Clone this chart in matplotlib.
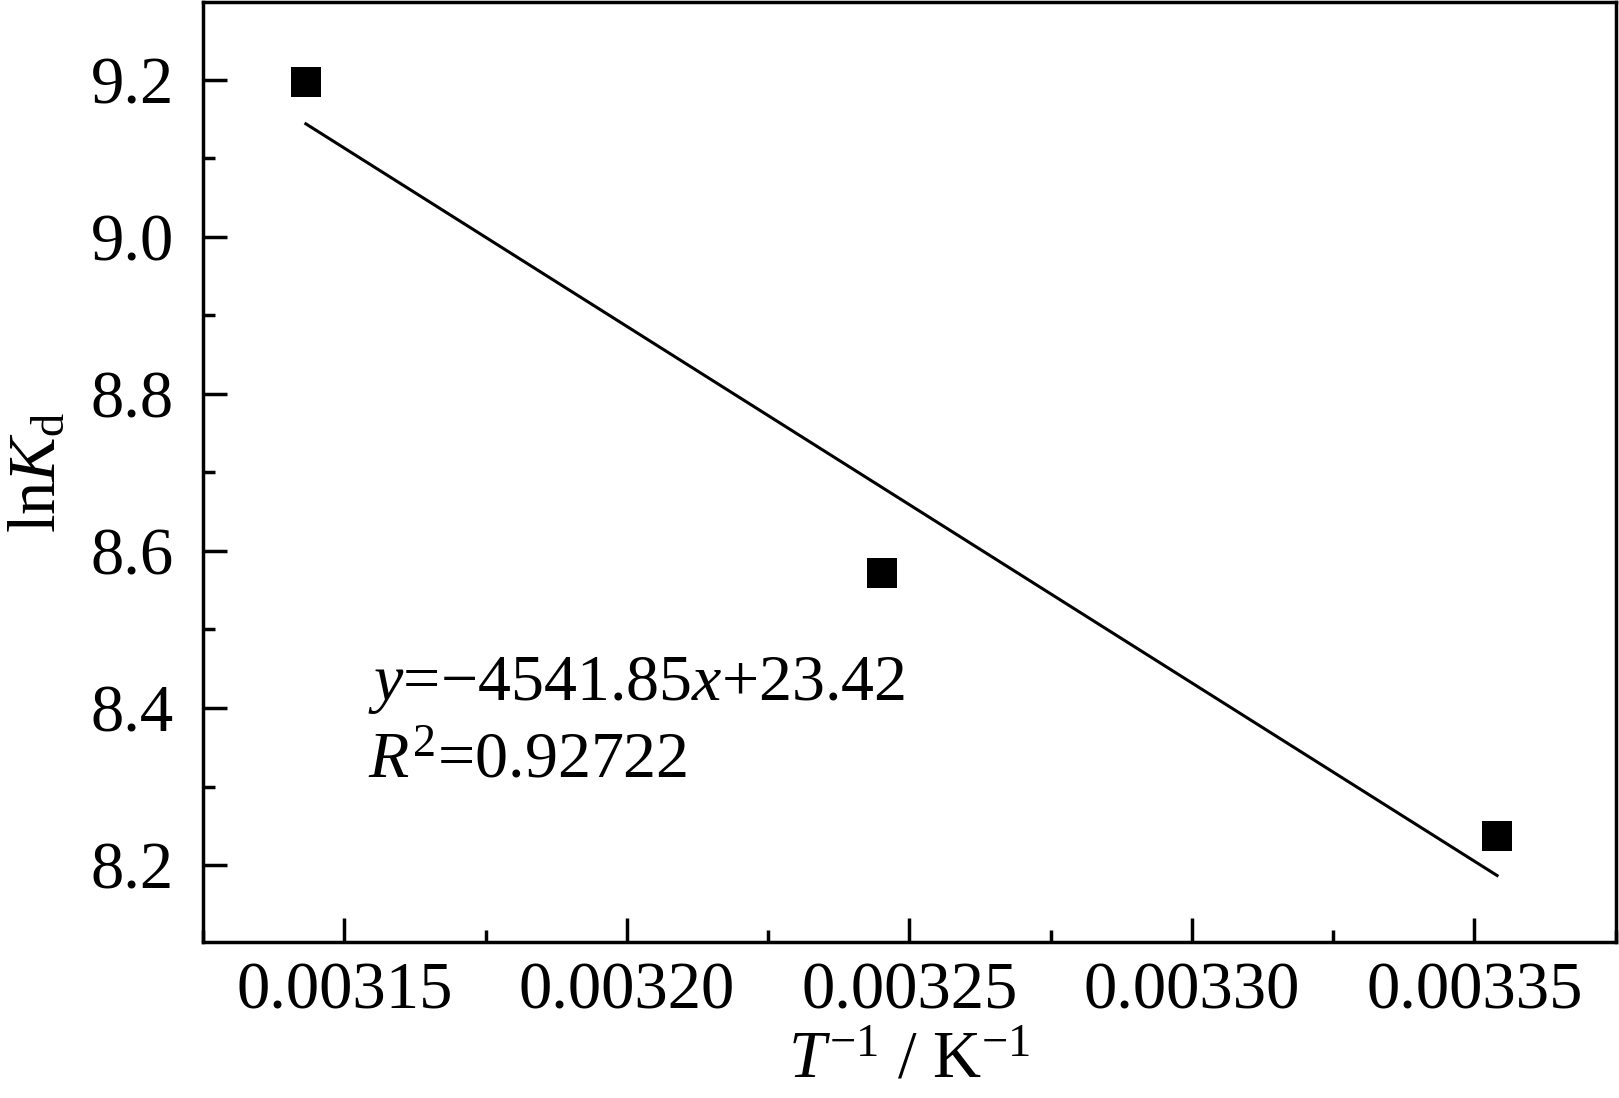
import matplotlib
matplotlib.use("Agg")
import matplotlib.pyplot as plt
import numpy as np
from matplotlib.ticker import MultipleLocator


# inverse temperature (1/K) and ln Kd
inv_temp = [0.0031432, 0.0032452, 0.0033540]
ln_kd = [9.197, 8.572, 8.237]

# linear fit as printed on the chart
fit_slope = -4541.85
fit_intercept = 23.42
fit_r2 = "0.92722"

x_ticks = [0.00315, 0.00320, 0.00325, 0.00330, 0.00335]
y_ticks = [8.2, 8.4, 8.6, 8.8, 9.0, 9.2]


def main():
    plt.rcParams["font.family"] = ["Liberation Serif", "DejaVu Serif"]
    plt.rcParams["mathtext.fontset"] = "custom"
    plt.rcParams["mathtext.rm"] = "Liberation Serif"
    plt.rcParams["mathtext.it"] = "Liberation Serif:italic"
    plt.rcParams["mathtext.bf"] = "Liberation Serif:bold"

    fig = plt.figure(figsize=(16.19, 10.98), dpi=100)
    ax = fig.add_axes([0.1254, 0.1421, 0.998 - 0.1254, 0.998 - 0.1421])

    ax.plot(inv_temp, ln_kd, "s", color="black", markersize=21, markeredgewidth=0)

    fit_x = np.array([inv_temp[0], inv_temp[-1]])
    ax.plot(fit_x, fit_slope * fit_x + fit_intercept, color="black", linewidth=2.2)

    ax.set_xlim(0.003125, 0.003375)
    ax.set_ylim(8.102, 9.299)
    ax.set_xticks(x_ticks)
    ax.set_xticklabels([f"{t:.5f}" for t in x_ticks])
    ax.set_yticks(y_ticks)
    ax.set_yticklabels([f"{t:.1f}" for t in y_ticks])
    ax.xaxis.set_minor_locator(MultipleLocator(0.000025))
    ax.yaxis.set_minor_locator(MultipleLocator(0.1))

    for side in ["left", "right", "top", "bottom"]:
        ax.spines[side].set_linewidth(2.5)

    ax.tick_params(which="both", direction="in", width=2.5, labelsize=48)
    ax.tick_params(which="major", length=17)
    ax.tick_params(which="minor", length=8.5)
    ax.tick_params(axis="y", which="major", pad=21)
    ax.tick_params(axis="x", which="major", pad=14)

    ax.set_xlabel(r"$T^{-1}$ / K$^{-1}$", fontsize=48, labelpad=6)
    ax.set_ylabel(r"ln$K_{\rm d}$", fontsize=48, labelpad=16)

    ax.text(0.1168, 0.2574, "$y$=\u22124541.85$x$+23.42", transform=ax.transAxes,
            fontsize=47.5, va="baseline", ha="left")
    ax.text(0.1168, 0.1755, f"$R^2$={fit_r2}", transform=ax.transAxes,
            fontsize=47.5, va="baseline", ha="left")

    fig.savefig("out.png", dpi=100)
    plt.close(fig)


if __name__ == "__main__":
    main()
